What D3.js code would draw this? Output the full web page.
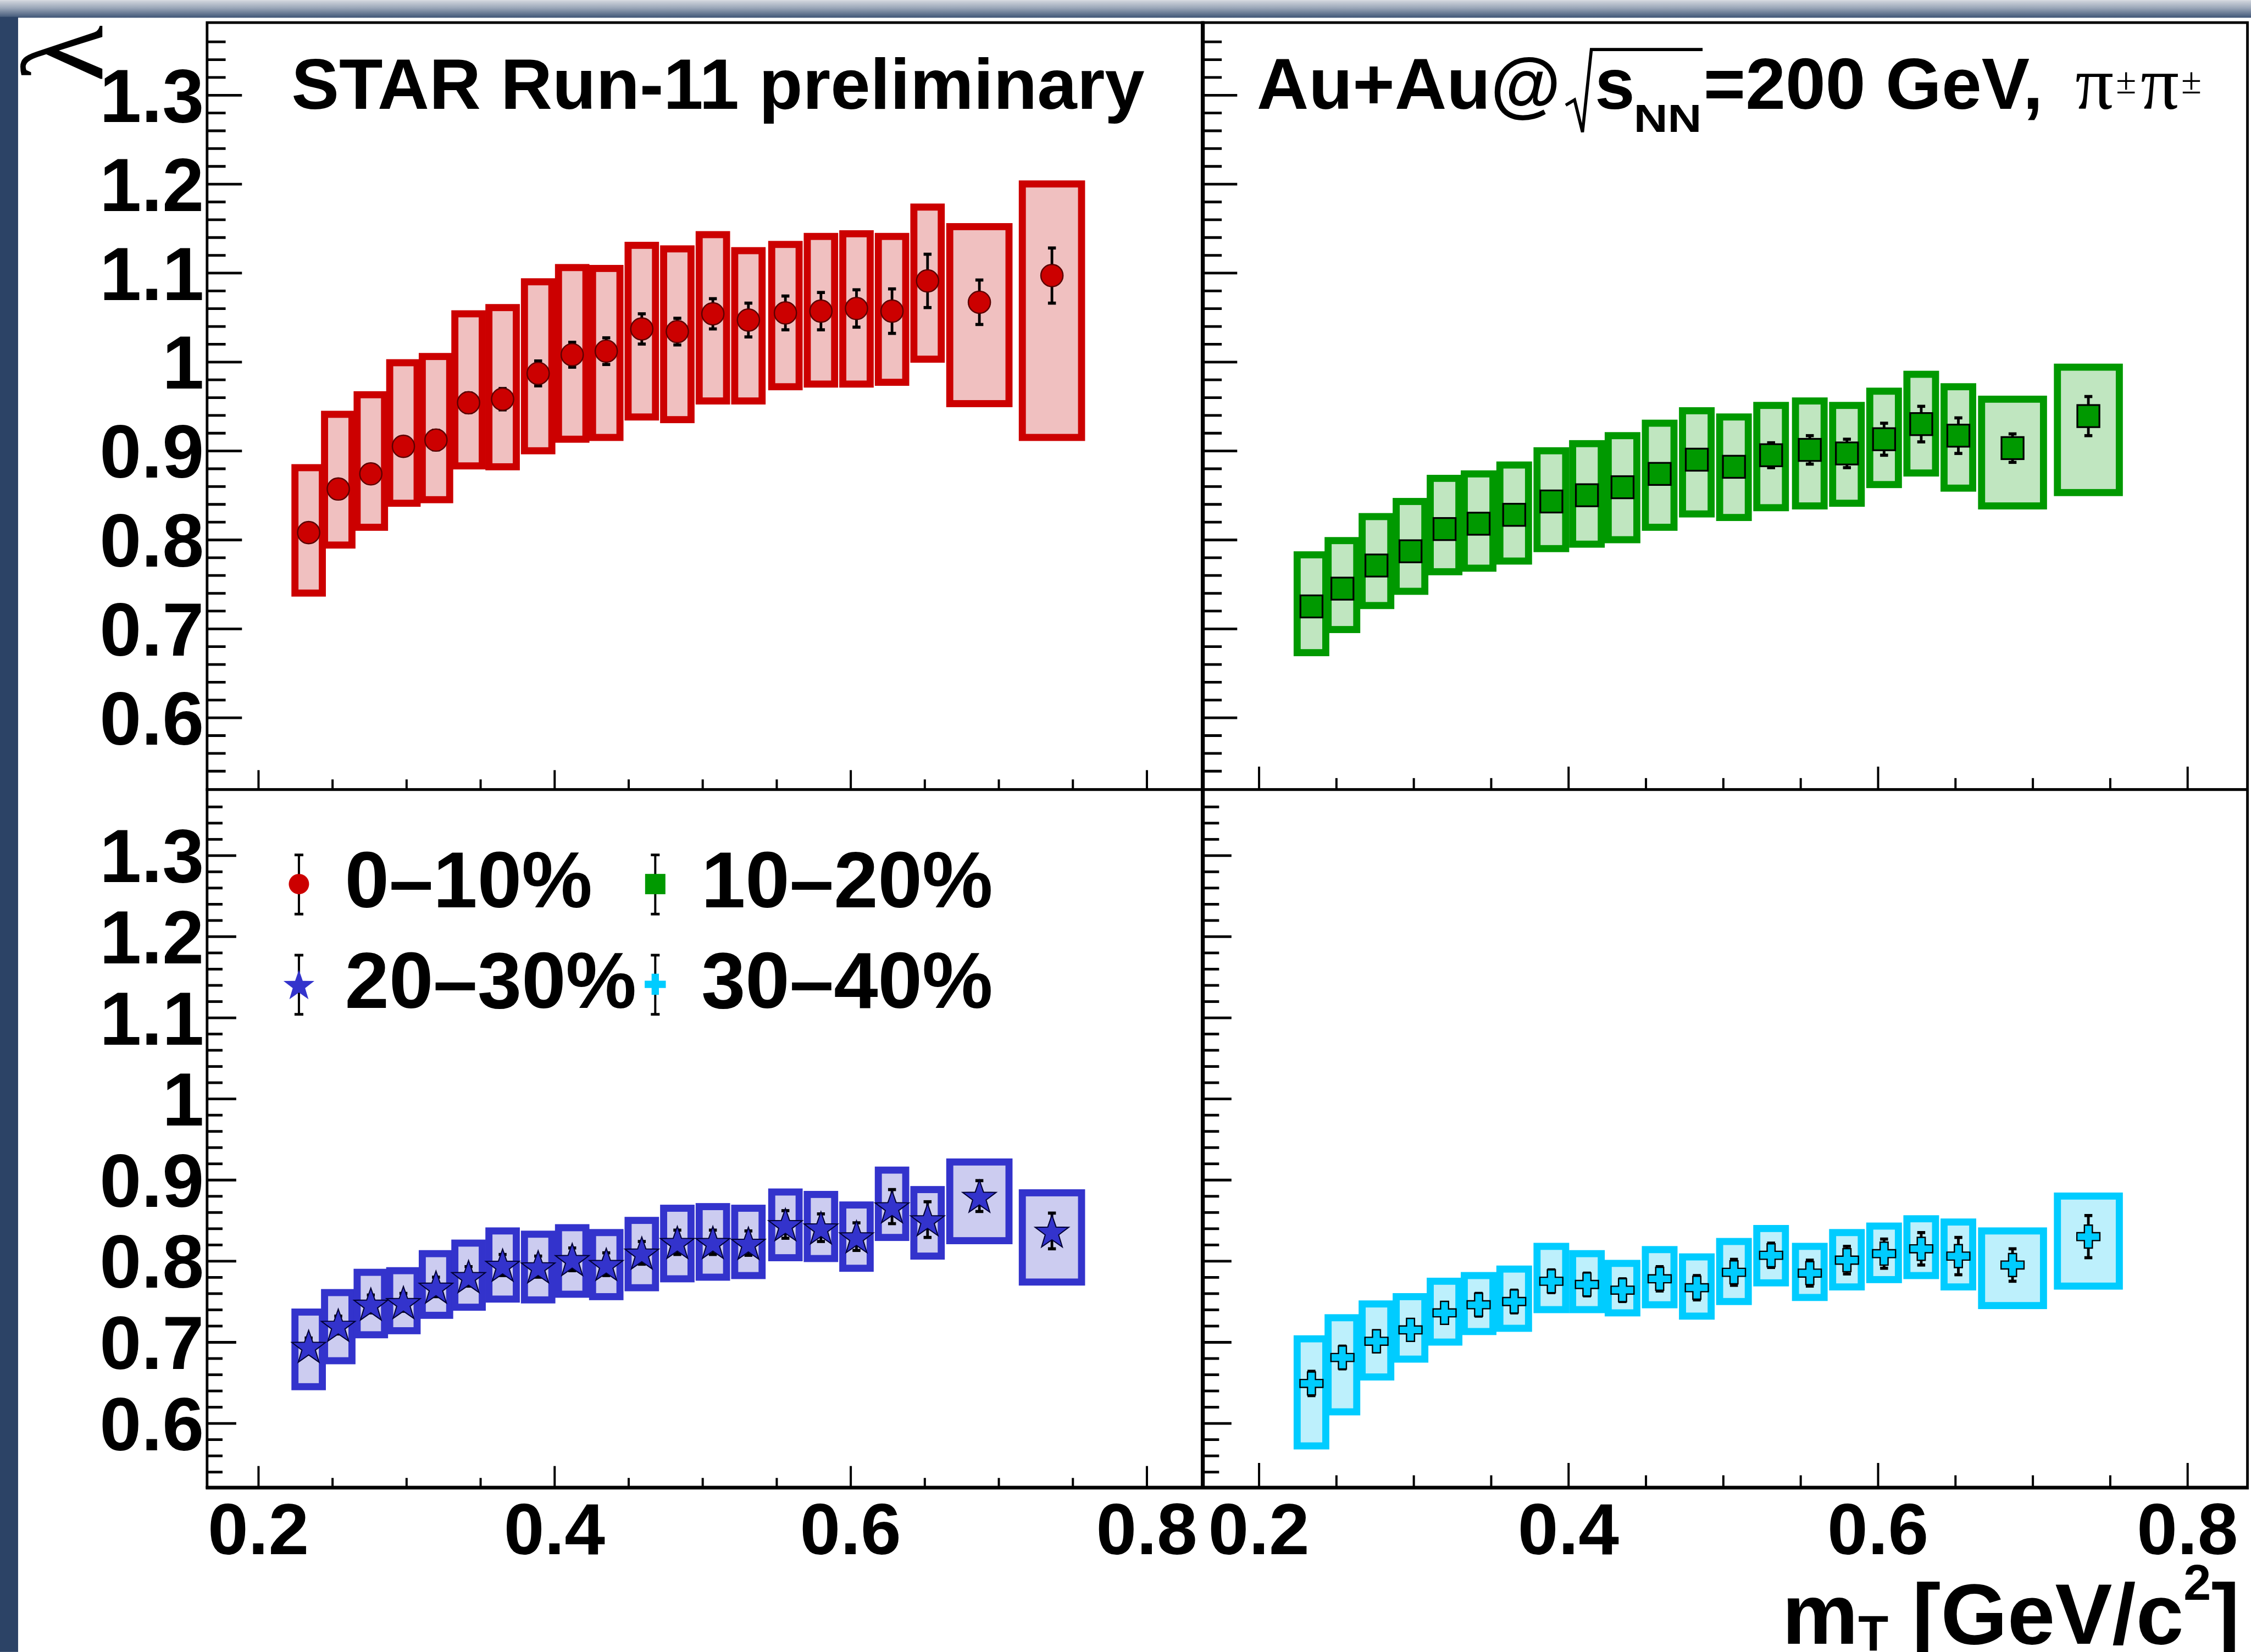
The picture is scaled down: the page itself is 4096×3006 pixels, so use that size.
<!DOCTYPE html>
<html>
<head>
<meta charset="utf-8">
<script src="https://cdn.jsdelivr.net/npm/d3@7"></script>
<style>
  html, body { margin: 0; padding: 0; background: #fff; overflow: hidden; }
</style>
</head>
<body>
<div id="chart"></div>
<script>
// ---- data ----
const mT = [0.234, 0.254, 0.276, 0.298, 0.320, 0.342, 0.365, 0.389, 0.412, 0.435, 0.459,
            0.483, 0.507, 0.531, 0.556, 0.580, 0.604, 0.628, 0.652, 0.687, 0.736];
const sysWidth = [0.0185, 0.0185, 0.0185, 0.0185, 0.0185, 0.0185, 0.0185, 0.0185, 0.0185, 0.0185, 0.0185,
                  0.0185, 0.0185, 0.0185, 0.0185, 0.0185, 0.0185, 0.0185, 0.0185, 0.040, 0.040];

const lambda0010 = [0.808, 0.857, 0.874, 0.905, 0.912, 0.954, 0.958, 0.987, 1.008, 1.012, 1.037,
                    1.034, 1.054, 1.047, 1.055, 1.057, 1.060, 1.057, 1.091, 1.067, 1.097];
const stat0010 = [0.010, 0.010, 0.010, 0.010, 0.011, 0.011, 0.012, 0.014, 0.014, 0.015, 0.017,
                  0.015, 0.017, 0.019, 0.019, 0.021, 0.021, 0.025, 0.030, 0.025, 0.031];
const sysLo0010 = [0.740, 0.794, 0.814, 0.841, 0.845, 0.883, 0.882, 0.900, 0.913, 0.915, 0.938,
                   0.935, 0.956, 0.956, 0.972, 0.975, 0.975, 0.977, 1.003, 0.953, 0.915];
const sysHi0010 = [0.881, 0.941, 0.963, 0.999, 1.006, 1.054, 1.061, 1.090, 1.106, 1.105, 1.131,
                   1.127, 1.143, 1.125, 1.132, 1.141, 1.144, 1.141, 1.174, 1.152, 1.200];

const lambda1020 = [0.725, 0.745, 0.771, 0.787, 0.812, 0.818, 0.828, 0.843, 0.850, 0.859, 0.874,
                    0.890, 0.882, 0.895, 0.901, 0.897, 0.913, 0.930, 0.917, 0.903, 0.939];
const stat1020 = [0.006, 0.006, 0.006, 0.006, 0.007, 0.007, 0.007, 0.008, 0.008, 0.008, 0.009,
                  0.009, 0.010, 0.014, 0.016, 0.016, 0.018, 0.020, 0.020, 0.016, 0.022];
const sysLo1020 = [0.673, 0.699, 0.726, 0.742, 0.764, 0.768, 0.776, 0.790, 0.795, 0.800, 0.814,
                   0.829, 0.825, 0.836, 0.838, 0.841, 0.862, 0.875, 0.858, 0.838, 0.853];
const sysHi1020 = [0.783, 0.799, 0.826, 0.843, 0.869, 0.874, 0.884, 0.900, 0.908, 0.917, 0.931,
                   0.945, 0.938, 0.951, 0.956, 0.951, 0.967, 0.986, 0.972, 0.958, 0.994];

const lambda2030 = [0.695, 0.721, 0.747, 0.749, 0.768, 0.781, 0.795, 0.793, 0.802, 0.796, 0.810,
                    0.823, 0.823, 0.822, 0.845, 0.841, 0.830, 0.867, 0.851, 0.880, 0.837];
const stat2030 = [0.010, 0.011, 0.011, 0.011, 0.012, 0.012, 0.013, 0.013, 0.014, 0.014, 0.014,
                  0.015, 0.015, 0.015, 0.017, 0.017, 0.017, 0.021, 0.022, 0.019, 0.022];
const sysLo2030 = [0.645, 0.677, 0.709, 0.714, 0.733, 0.743, 0.753, 0.752, 0.759, 0.756, 0.767,
                   0.778, 0.780, 0.782, 0.804, 0.803, 0.791, 0.829, 0.806, 0.825, 0.774];
const sysHi2030 = [0.737, 0.761, 0.786, 0.788, 0.809, 0.822, 0.837, 0.833, 0.841, 0.835, 0.850,
                   0.865, 0.867, 0.865, 0.885, 0.882, 0.869, 0.912, 0.888, 0.922, 0.884];

const lambda3040 = [0.649, 0.681, 0.701, 0.715, 0.736, 0.746, 0.750, 0.775, 0.771, 0.764, 0.778,
                    0.767, 0.786, 0.807, 0.785, 0.801, 0.809, 0.815, 0.806, 0.795, 0.830];
const stat3040 = [0.015, 0.014, 0.013, 0.013, 0.013, 0.014, 0.014, 0.014, 0.014, 0.014, 0.015,
                  0.015, 0.016, 0.015, 0.016, 0.017, 0.018, 0.020, 0.023, 0.020, 0.026];
const sysLo3040 = [0.572, 0.614, 0.657, 0.679, 0.700, 0.713, 0.717, 0.740, 0.740, 0.736, 0.746,
                   0.732, 0.750, 0.773, 0.755, 0.768, 0.777, 0.782, 0.768, 0.745, 0.769];
const sysHi3040 = [0.704, 0.730, 0.747, 0.756, 0.775, 0.782, 0.790, 0.818, 0.809, 0.797, 0.814,
                   0.805, 0.824, 0.840, 0.818, 0.835, 0.843, 0.852, 0.848, 0.837, 0.880];

const centralityLabels = ["0\u201310%", "10\u201320%", "20\u201330%", "30\u201340%"];
const xTickValues = [0.2, 0.4, 0.6, 0.8];
const xTickLabels = ["0.2", "0.4", "0.6", "0.8"];
const yTickValues = [0.6, 0.7, 0.8, 0.9, 1.0, 1.1, 1.2, 1.3];
const yTickLabels = ["0.6", "0.7", "0.8", "0.9", "1", "1.1", "1.2", "1.3"];

// ---- drawing ----
const W = 5098, H = 3741;
const FONT = "'Liberation Sans', Arial, Helvetica, sans-serif";
const SERIF = "'Liberation Serif', 'Times New Roman', serif";

const svg = d3.select("#chart").append("svg")
  .attr("width", 4096).attr("height", 3006)
  .attr("viewBox", `0 0 ${W} ${H}`);

const defs = svg.append("defs");
const grad = defs.append("linearGradient").attr("id", "topbar")
  .attr("x1", 0).attr("y1", 0).attr("x2", 0).attr("y2", 1);
grad.append("stop").attr("offset", "0%").attr("stop-color", "#d4d8df");
grad.append("stop").attr("offset", "45%").attr("stop-color", "#9aa6b8");
grad.append("stop").attr("offset", "100%").attr("stop-color", "#3f5576");

svg.append("rect").attr("width", W).attr("height", H).attr("fill", "#fff");
svg.append("rect").attr("x", 0).attr("y", 0).attr("width", W).attr("height", 40).attr("fill", "url(#topbar)");
svg.append("rect").attr("x", 0).attr("y", 38).attr("width", 41).attr("height", H - 38).attr("fill", "#2c4366");

// marker shapes (local coordinates)
function starPath(R) {
  const pts = [];
  for (let i = 0; i < 10; i++) {
    const r = i % 2 === 0 ? R : R * 0.4;
    const a = -Math.PI / 2 + i * Math.PI / 5;
    pts.push([r * Math.cos(a), r * Math.sin(a)]);
  }
  return "M" + pts.map(p => p.join(",")).join("L") + "Z";
}
function crossPath(L, w) {
  return `M${-w},${-L}L${w},${-L}L${w},${-w}L${L},${-w}L${L},${w}L${w},${w}L${w},${L}` +
         `L${-w},${L}L${-w},${w}L${-L},${w}L${-L},${-w}L${-w},${-w}Z`;
}
const markerStyles = [
  { kind: "circle", fill: "#cc0000", stroke: "#5a0000", sw: 3 },
  { kind: "square", fill: "#009900", stroke: "#000", sw: 4 },
  { kind: "star", fill: "#3333cc", stroke: "#000033", sw: 2.5 },
  { kind: "cross", fill: "#00ccff", stroke: "#000", sw: 3 }
];
function drawMarker(g, style, scale) {
  const s = scale || 1;
  if (style.kind === "circle") {
    g.append("circle").attr("r", 25 * s);
  } else if (style.kind === "square") {
    g.append("rect").attr("x", -25 * s).attr("y", -25 * s).attr("width", 50 * s).attr("height", 50 * s);
  } else if (style.kind === "star") {
    g.append("path").attr("d", starPath(40 * s)).attr("transform", "translate(0,4)");
  } else {
    g.append("path").attr("d", crossPath(26 * s, 9 * s));
  }
  g.selectAll("*").attr("fill", style.fill).attr("stroke", style.stroke).attr("stroke-width", style.sw);
}

const series = [
  { v: lambda0010, stat: stat0010, lo: sysLo0010, hi: sysHi0010, line: "#cc0000", fill: "#f0c0c0" },
  { v: lambda1020, stat: stat1020, lo: sysLo1020, hi: sysHi1020, line: "#009900", fill: "#c0e6c0" },
  { v: lambda2030, stat: stat2030, lo: sysLo2030, hi: sysHi2030, line: "#3333cc", fill: "#ccccf0" },
  { v: lambda3040, stat: stat3040, lo: sysLo3040, hi: sysHi3040, line: "#00ccff", fill: "#bdf0fc" }
];

const panels = [
  { x0: 469, x1: 2724, y0: 51, y1: 1788, xr: [585, 2597], yr: [1625, 215], yLab: true, xLab: false,
    tY: [79, 42], tX: [44, 23] },
  { x0: 2724, x1: 5090, y0: 51, y1: 1788, xr: [2851, 4954], yr: [1625, 215], yLab: false, xLab: false,
    tY: [78, 43], tX: [52, 26] },
  { x0: 469, x1: 2724, y0: 1788, y1: 3368, xr: [585, 2597], yr: [3223, 1937], yLab: true, xLab: true,
    tY: [66, 35], tX: [48, 21] },
  { x0: 2724, x1: 5090, y0: 1788, y1: 3368, xr: [2851, 4954], yr: [3223, 1937], yLab: false, xLab: true,
    tY: [65, 37], tX: [55, 27] }
];

panels.forEach((p, k) => {
  const x = d3.scaleLinear().domain([0.2, 0.8]).range(p.xr);
  const y = d3.scaleLinear().domain([0.6, 1.3]).range(p.yr);
  const s = series[k];
  const g = svg.append("g");

  // systematic boxes
  g.selectAll("rect.sys").data(mT).join("rect").attr("class", "sys")
    .attr("x", (d, i) => x(d - sysWidth[i] / 2))
    .attr("width", (d, i) => x(d + sysWidth[i] / 2) - x(d - sysWidth[i] / 2))
    .attr("y", (d, i) => y(s.hi[i]))
    .attr("height", (d, i) => y(s.lo[i]) - y(s.hi[i]))
    .attr("fill", s.fill).attr("stroke", s.line).attr("stroke-width", 16);

  // statistical error bars
  const eb = g.selectAll("g.err").data(mT).join("g").attr("class", "err");
  eb.append("line")
    .attr("x1", d => x(d)).attr("x2", d => x(d))
    .attr("y1", (d, i) => y(s.v[i] - s.stat[i])).attr("y2", (d, i) => y(s.v[i] + s.stat[i]))
    .attr("stroke", "#000").attr("stroke-width", 6);
  [-1, 1].forEach(sg => {
    eb.append("line")
      .attr("x1", d => x(d) - 9).attr("x2", d => x(d) + 9)
      .attr("y1", (d, i) => y(s.v[i] + sg * s.stat[i])).attr("y2", (d, i) => y(s.v[i] + sg * s.stat[i]))
      .attr("stroke", "#000").attr("stroke-width", 7);
  });

  // markers
  g.selectAll("g.mk").data(mT).join("g").attr("class", "mk")
    .attr("transform", (d, i) => `translate(${x(d)},${y(s.v[i])})`)
    .each(function () { drawMarker(d3.select(this), markerStyles[k]); });

  // y ticks (inside, on the left edge)
  const minorY = d3.range(26, 70).filter(i => i % 5 !== 0).map(i => i * 0.02)
    .filter(v => y(v) > p.y0 + 8 && y(v) < p.y1 - 8);
  const ay1 = svg.append("g").attr("transform", `translate(${p.x0},0)`)
    .call(d3.axisRight(y).tickValues(yTickValues).tickSize(p.tY[0]).tickFormat(""));
  const ay2 = svg.append("g").attr("transform", `translate(${p.x0},0)`)
    .call(d3.axisRight(y).tickValues(minorY).tickSize(p.tY[1]).tickFormat(""));
  [ay1, ay2].forEach(a => {
    a.select(".domain").remove();
    a.selectAll("line").attr("stroke", "#000").attr("stroke-width", 6);
  });

  // x ticks (inside, on the bottom edge)
  const minorX = d3.range(3, 18).filter(i => i % 4 !== 0).map(i => i * 0.05)
    .filter(v => x(v) > p.x0 + 5 && x(v) < p.x1 - 5);
  const ax1 = svg.append("g").attr("transform", `translate(0,${p.y1})`)
    .call(d3.axisTop(x).tickValues(xTickValues).tickSize(p.tX[0]).tickFormat(""));
  const ax2 = svg.append("g").attr("transform", `translate(0,${p.y1})`)
    .call(d3.axisTop(x).tickValues(minorX).tickSize(p.tX[1]).tickFormat(""));
  [ax1, ax2].forEach(a => {
    a.select(".domain").remove();
    a.selectAll("line").attr("stroke", "#000").attr("stroke-width", 5);
  });

  if (p.yLab) {
    svg.append("g").selectAll("text").data(yTickValues).join("text")
      .attr("x", 462).attr("y", d => y(d) + 61)
      .attr("text-anchor", "end")
      .attr("font-family", FONT).attr("font-weight", "bold").attr("font-size", 170)
      .text((d, i) => yTickLabels[i]);
  }
  if (p.xLab) {
    svg.append("g").selectAll("text").data(xTickValues).join("text")
      .attr("x", d => x(d)).attr("y", 3520)
      .attr("text-anchor", "middle")
      .attr("font-family", FONT).attr("font-weight", "bold").attr("font-size", 165)
      .text((d, i) => xTickLabels[i]);
  }

  // frame
  svg.append("rect")
    .attr("x", p.x0).attr("y", p.y0).attr("width", p.x1 - p.x0).attr("height", p.y1 - p.y0)
    .attr("fill", "none").attr("stroke", "#000").attr("stroke-width", 6);
});

// thicker bottom axis line
svg.append("line").attr("x1", 466).attr("x2", 5093).attr("y1", 3369).attr("y2", 3369)
  .attr("stroke", "#000").attr("stroke-width", 8);
// divider between left and right panels
svg.append("line").attr("x1", 2724).attr("x2", 2724).attr("y1", 48).attr("y2", 3370)
  .attr("stroke", "#000").attr("stroke-width", 9);

// ---- titles ----
svg.append("text").attr("x", 660).attr("y", 246)
  .attr("font-family", FONT).attr("font-weight", "bold").attr("font-size", 162)
  .text("STAR Run-11 preliminary");

const t2 = svg.append("g").attr("font-family", FONT).attr("font-weight", "bold");
t2.append("text").attr("x", 2846).attr("y", 246).attr("font-size", 163).text("Au+Au@");
t2.append("path").attr("d", "M3546,238 L3566,226 L3584,299 L3604,112 L3856,112")
  .attr("fill", "none").attr("stroke", "#000").attr("stroke-width", 7).attr("stroke-linejoin", "miter");
t2.append("text").attr("x", 3612).attr("y", 246).attr("font-size", 163).text("s");
t2.append("text").attr("x", 3700).attr("y", 299).attr("font-size", 88)
  .attr("textLength", 154).attr("lengthAdjust", "spacingAndGlyphs").text("NN");
t2.append("text").attr("x", 3858).attr("y", 246).attr("font-size", 163).text("=200 GeV,");
const pi = svg.append("g").attr("font-family", SERIF);
[4700, 4848].forEach(px => {
  pi.append("text").attr("x", px).attr("y", 246).attr("font-size", 172).text("\u03c0");
  pi.append("text").attr("x", px + 92).attr("y", 212).attr("font-size", 84).text("\u00b1");
});

// y axis title
svg.append("text")
  .attr("transform", "translate(232,121) rotate(-90)")
  .attr("text-anchor", "middle")
  .attr("font-family", SERIF).attr("font-size", 265)
  .text("\u03bb");

// x axis title
const xt = svg.append("text").attr("x", 4036).attr("y", 3723)
  .attr("font-family", FONT).attr("font-weight", "bold").attr("font-size", 194);
xt.append("tspan").text("m");
xt.append("tspan").attr("font-size", 112).attr("dy", 16).text("T");
xt.append("tspan").attr("dy", -16).text(" [GeV/c");
xt.append("tspan").attr("font-size", 112).attr("dy", -100).text("2");
xt.append("tspan").attr("dy", 100).text("]");

// ---- legend ----
const legX = [677, 1484], legY = [2002, 2229];
centralityLabels.forEach((lab, k) => {
  const cx = legX[k % 2], cy = legY[Math.floor(k / 2)];
  const lg = svg.append("g");
  lg.append("line").attr("x1", cx).attr("x2", cx).attr("y1", cy - 66).attr("y2", cy + 68)
    .attr("stroke", "#000").attr("stroke-width", 5);
  [-66, 68].forEach(o => lg.append("line").attr("x1", cx - 10).attr("x2", cx + 10)
    .attr("y1", cy + o).attr("y2", cy + o).attr("stroke", "#000").attr("stroke-width", 6));
  const mk = lg.append("g").attr("transform", `translate(${cx},${cy})`);
  drawMarker(mk, Object.assign({}, markerStyles[k], { stroke: markerStyles[k].fill, sw: 0 }), 0.92);
  lg.append("text").attr("x", cx + 104).attr("y", cy + 53)
    .attr("font-family", FONT).attr("font-weight", "bold").attr("font-size", 180)
    .text(lab);
});
</script>
</body>
</html>
